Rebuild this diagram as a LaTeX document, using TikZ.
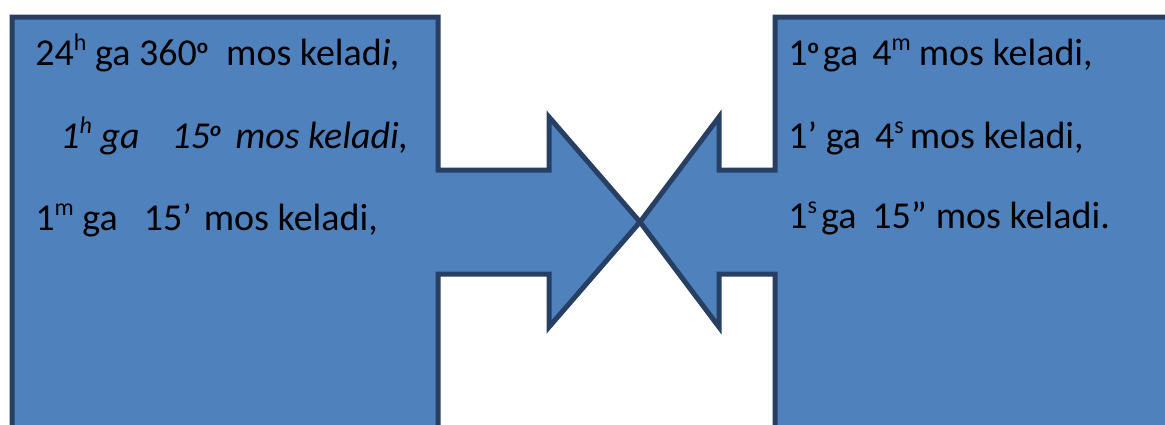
\documentclass[tikz,border=0pt]{standalone}
\usepackage{fontspec}
\setmainfont{Carlito}
\usetikzlibrary{positioning}
\definecolor{boxfill}{HTML}{4F81BD}
\definecolor{boxline}{HTML}{263F63}

\begin{document}
\begin{tikzpicture}[
    x=0.5pt, y=-0.5pt,
    callout/.style={fill=boxfill, draw=boxline, line width=2.5pt, line join=miter},
    entry/.style={anchor=base west, inner sep=0pt, font=\fontsize{19}{23}\selectfont},
]

\def\degr{\raisebox{6pt}{\fontsize{10.5}{10.5}\selectfont\bfseries o}}  % small bold ring
\def\sups#1{\raisebox{7.5pt}{\fontsize{12}{12}\selectfont #1}}           % small raised unit
\def\tip{640}   % common tip of both arrows
\def\ht{17}     % top edge of both boxes

\useasboundingbox (0,0) rectangle (1165,424);
\clip (0,0) rectangle (1165,424);

% ── Left callout: box with arrow to the right ──
\draw[callout] (12,\ht) -- (438,\ht) -- (438,170) -- (549,170) -- (549,117)
    -- (\tip,222) -- (549,327) -- (549,274) -- (438,274) -- (438,450)
    -- (12,450) -- cycle;

% ── Right callout: box with arrow to the left ──
\draw[callout] (775,\ht) -- (1190,\ht) -- (1190,450) -- (775,450) -- (775,274)
    -- (719,274) -- (719,327) -- (\tip,222) -- (719,117) -- (719,170)
    -- (775,170) -- cycle;

% ── Left texts ──
\node[entry] (l1) at (35,65)
    {24\sups{h} ga 360\degr\hspace{9pt}mos kelad\textit{i,}};
\node[entry] (l2) at (60,148)
    {\itshape 1\sups{h} ga\hspace{16pt}15\degr\hspace{7pt}mos keladi,};
\node[entry] (l3) at (35,230)
    {1\sups{m} ga\hspace{13pt}15’\hspace{6pt}mos keladi,};

% ── Right texts ──
\node[entry] (r1) at (788,65)
    {1\degr\hspace{2pt}ga\hspace{7pt}4\sups{m}\hspace{4pt}mos keladi,};
\node[entry] (r2) at (788,148)
    {1’ ga\hspace{7pt}4\sups{s}\hspace{3pt}mos keladi,};
\node[entry] (r3) at (788,228)
    {1\sups{s}\hspace{2pt}ga\hspace{8pt}15”\hspace{4.5pt}mos keladi.};

\end{tikzpicture}
\end{document}
